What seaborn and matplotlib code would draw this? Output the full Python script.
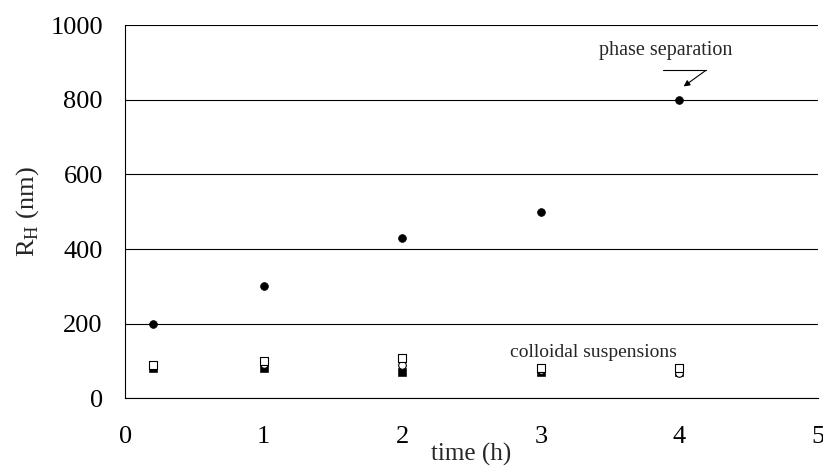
import numpy as np
import pandas as pd
import seaborn as sns
import matplotlib.pyplot as plt

# time points (h)
time_h = [0.2, 1, 2, 3, 4]

# hydrodynamic radius R_H (nm) per sample
phase_sep = [200, 300, 430, 500, 800]       # filled circles
open_square = [90, 100, 108, 80, 80]        # open squares
open_circle = [88, 92, 90, 75, 68]          # open circles
filled_square = [80, 80, 70, 70, 70]        # filled squares

y_ticks = [0, 200, 400, 600, 800, 1000]
x_ticks = [0, 1, 2, 3, 4, 5]

sns.set_style("white")
plt.rcParams['font.family'] = ['Liberation Serif', 'DejaVu Serif']

fig = plt.figure(figsize=(8.23, 4.68), dpi=100)
ax = fig.add_axes([0.152, 0.149, 0.842, 0.797])

ax.set_axisbelow(True)
ax.grid(axis='y', color='black', linewidth=0.8)
ax.grid(axis='x', visible=False)

sns.scatterplot(x=time_h, y=phase_sep, ax=ax, marker='o', s=32,
                color='black', edgecolor='black', zorder=3)
sns.scatterplot(x=time_h, y=filled_square, ax=ax, marker='s', s=30,
                color='black', edgecolor='black', zorder=3)
sns.scatterplot(x=time_h, y=open_circle, ax=ax, marker='o', s=30,
                facecolor='white', edgecolor='black', linewidth=0.8, zorder=4)
sns.scatterplot(x=time_h, y=open_square, ax=ax, marker='s', s=30,
                facecolor='white', edgecolor='black', linewidth=0.8, zorder=4)

ax.set_xlim(0, 5)
ax.set_ylim(0, 1000)
ax.set_xticks(x_ticks)
ax.set_yticks(y_ticks)
ax.tick_params(axis='both', labelsize=19, colors='black', width=0.8)
ax.tick_params(axis='y', direction='inout', length=8, pad=12)
ax.tick_params(axis='x', direction='out', length=5, pad=15)

sns.despine(ax=ax)
for side in ['left', 'bottom']:
    ax.spines[side].set_color('black')
    ax.spines[side].set_linewidth(0.8)

ax.set_xlabel('time (h)', fontsize=18, labelpad=-4)
ax.set_ylabel('R$_\\mathregular{H}$ (nm)', fontsize=19, labelpad=7)

ax.text(3.9, 933, 'phase separation', fontsize=14.5, ha='center', va='center')
ax.plot([3.88, 4.19], [879, 879], color='black', linewidth=0.8)
ax.annotate('', xy=(4.03, 836), xytext=(4.19, 879),
            arrowprops=dict(arrowstyle='-|>', color='black', lw=0.8,
                            mutation_scale=9, shrinkA=0, shrinkB=0))
ax.text(3.38, 122, 'colloidal suspensions', fontsize=14, ha='center', va='center')

plt.savefig('out.png', dpi=100)
plt.close()
